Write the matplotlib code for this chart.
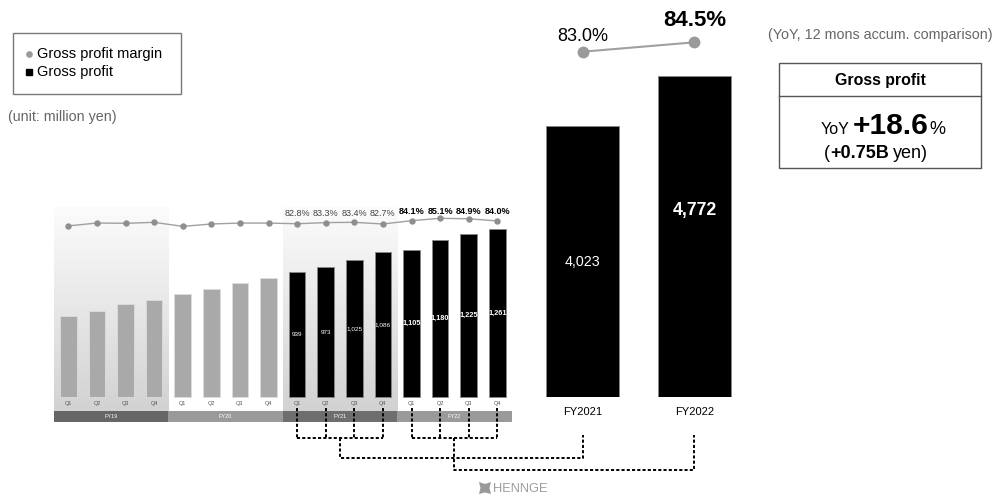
import numpy as np
import matplotlib
matplotlib.use("Agg")
import matplotlib.pyplot as plt
from matplotlib.patches import Rectangle, Polygon
from matplotlib.colors import LinearSegmentedColormap

plt.rcParams['font.family'] = ['Liberation Sans', 'DejaVu Sans']

# Quarterly gross profit (million yen) and gross profit margin (%)
fiscal_years = ['FY19', 'FY20', 'FY21', 'FY22']
quarters = ['Q1', 'Q2', 'Q3', 'Q4']
gp_fy19 = [608, 645, 698, 728]
gp_fy20 = [770, 810, 855, 893]
gp_fy21 = [939, 973, 1025, 1086]
gp_fy22 = [1105, 1180, 1225, 1261]
margin_fy19 = [81.9, 83.1, 83.0, 83.4]
margin_fy20 = [81.7, 82.7, 83.1, 83.1]
margin_fy21 = [82.8, 83.3, 83.4, 82.7]
margin_fy22 = [84.1, 85.1, 84.9, 84.0]

# 12 months accumulated
annual_labels = ['FY2021', 'FY2022']
annual_gp = [4023, 4772]
annual_margin = [83.0, 84.5]

W, H = 996, 495
fig = plt.figure(figsize=(W / 100, H / 100), dpi=100)


def px_rect(x0, y0, x1, y1):
    return [x0 / W, 1 - y1 / H, (x1 - x0) / W, (y1 - y0) / H]


# ---------------- quarterly chart ----------------
gp_all = gp_fy19 + gp_fy20 + gp_fy21 + gp_fy22
margin_all = margin_fy19 + margin_fy20 + margin_fy21 + margin_fy22
xq = np.arange(len(gp_all))

ax_q = fig.add_axes(px_rect(54, 207, 511.6, 421.7))
q_top, q_bottom = 1425, -185
band_top = -105
ax_q.axis('off')

# shaded background for FY19 and FY21
shade = LinearSegmentedColormap.from_list('shade', ['#fcfcfc', '#d2d2d2'])
grad = np.linspace(0, 1, 256).reshape(-1, 1)
for k in (0, 2):
    ax_q.imshow(grad, extent=[4 * k - 0.5, 4 * k + 3.5, band_top, q_top],
                cmap=shade, aspect='auto', zorder=0)

for i, v in enumerate(gp_all):
    fy = i // 4
    color = '#a9a9a9' if fy < 2 else 'black'
    edge = '#dddddd' if fy < 2 else '#888888'
    ax_q.bar(i, v, width=0.58, color=color, edgecolor=edge, linewidth=0.6, zorder=2)
    if fy == 2:
        ax_q.text(i, v / 2, f'{v:,}', color='white', fontsize=4.6,
                  ha='center', va='center', zorder=3)
    elif fy == 3:
        ax_q.text(i, v / 2, f'{v:,}', color='white', fontsize=5.3,
                  fontweight='bold', ha='center', va='center', zorder=3)
    ax_q.text(i, -52, quarters[i % 4], color='#555555', fontsize=4,
              ha='center', va='center', zorder=3)

band_colors = ['#666666', '#9a9a9a', '#6e6e6e', '#9a9a9a']
for k, name in enumerate(fiscal_years):
    ax_q.add_patch(Rectangle((4 * k - 0.5, q_bottom), 4, band_top - q_bottom,
                             facecolor=band_colors[k], edgecolor='none', zorder=2))
    ax_q.text(4 * k + 1.5, (band_top + q_bottom) / 2, name, color='white',
              fontsize=4, ha='center', va='center', zorder=3)

ax_q.set_xlim(-0.5, 15.5)
ax_q.set_ylim(q_bottom, q_top)

ax_m = ax_q.twinx()
ax_m.axis('off')
ax_m.plot(xq, margin_all, color='#a0a0a0', lw=1, marker='o', ms=3.6,
          mfc='#8e8e8e', mec='#8e8e8e', zorder=4)
for i in range(8, 16):
    bold = i >= 12
    ax_m.text(i, 87.9 if bold else 87.2, f'{margin_all[i]:.1f}%',
              fontsize=6.5, ha='center', va='center',
              color='black' if bold else '#444444',
              fontweight='bold' if bold else 'normal')
ax_m.set_xlim(-0.5, 15.5)
ax_m.set_ylim(-0.54, 89.86)

# ---------------- annual chart ----------------
xb = np.arange(len(annual_gp))
ax_b = fig.add_axes(px_rect(530, 20, 750, 397))
ax_b.axis('off')
ax_b.bar(xb, annual_gp, width=0.657, color='black', edgecolor='#888888', linewidth=0.6)
ax_b.text(xb[0], annual_gp[0] * 0.5, f'{annual_gp[0]:,}', color='white',
          fontsize=10.3, ha='center', va='center')
ax_b.text(xb[1], annual_gp[1] * 0.58, f'{annual_gp[1]:,}', color='white',
          fontsize=12.7, fontweight='bold', ha='center', va='center')
for x, lab in zip(xb, annual_labels):
    ax_b.text(x, -223, lab, fontsize=8, ha='center', va='center', clip_on=False)
ax_b.set_xlim(-0.469, 1.496)
ax_b.set_ylim(0, 5602)

ax_bm = ax_b.twinx()
ax_bm.axis('off')
ax_bm.plot(xb, annual_margin, color='#a0a0a0', lw=1.5, marker='o', ms=7.5,
           mfc='#9a9a9a', mec='#9a9a9a')
ax_bm.annotate(f'{annual_margin[0]:.1f}%', (xb[0], annual_margin[0]),
               xytext=(0, 11), textcoords='offset points', fontsize=13,
               ha='center', va='center')
ax_bm.annotate(f'{annual_margin[1]:.1f}%', (xb[1], annual_margin[1]),
               xytext=(0, 16), textcoords='offset points', fontsize=16,
               fontweight='bold', ha='center', va='center')
ax_bm.set_xlim(-0.469, 1.496)
ax_bm.set_ylim(27.93, 88.06)

# ---------------- overlay: connectors, legend, summary box ----------------
ax_o = fig.add_axes([0, 0, 1, 1])
ax_o.set_xlim(0, W)
ax_o.set_ylim(H, 0)
ax_o.axis('off')

qx = [ax_q.transData.transform((i, 0))[0] for i in xq]
bx = [ax_b.transData.transform((i, 0))[0] for i in xb]
dash = dict(color='black', lw=1.4, linestyle=(0, (1.6, 1.1)), zorder=5)
for k, (start, drop) in enumerate([(8, 458), (12, 470)]):
    xs = qx[start:start + 4]
    for x in xs:
        ax_o.plot([x, x], [408, 438], **dash)
    ax_o.plot([xs[0], xs[-1]], [438, 438], **dash)
    mid = np.mean(xs)
    ax_o.plot([mid, mid, bx[k], bx[k]], [438, drop, drop, 435], **dash)

# legend box
ax_o.add_patch(Rectangle((13, 33), 168, 61, facecolor='none', edgecolor='#777777', lw=1))
ax_o.plot([29], [54.3], marker='o', ms=3.8, color='#9a9a9a')
ax_o.plot([29], [71.7], marker='s', ms=4.2, color='black')
ax_o.text(37, 54.3, 'Gross profit margin', fontsize=10.5, va='center', ha='left')
ax_o.text(37, 71.7, 'Gross profit', fontsize=10.5, va='center', ha='left')
ax_o.text(8, 117, '(unit: million yen)', fontsize=10.3, color='#666666',
          va='center', ha='left')

ax_o.text(993, 35, '(YoY, 12 mons accum. comparison)', fontsize=10.3,
          color='#666666', va='center', ha='right')

# summary box
ax_o.add_patch(Rectangle((779, 63), 202, 105, facecolor='none', edgecolor='#555555', lw=1))
ax_o.plot([779, 981], [96, 96], color='#555555', lw=1)
ax_o.text(880, 80, 'Gross profit', fontsize=11.4, fontweight='bold',
          ha='center', va='center')

renderer = fig.canvas.get_renderer()


def rich_line(xc, y, parts):
    items = []
    for s, kw, gap in parts:
        t = ax_o.text(0, y, s, ha='left', va='baseline', **kw)
        items.append((t, gap))
    widths = [t.get_window_extent(renderer).width + g for t, g in items]
    x = xc - sum(widths) / 2
    for (t, g), w in zip(items, widths):
        t.set_x(x)
        x += w


rich_line(883, 134, [('YoY', dict(fontsize=11.5), 4),
                     ('+18.6', dict(fontsize=21.5, fontweight='bold'), 1),
                     ('%', dict(fontsize=13), 0)])
rich_line(876, 158, [('(', dict(fontsize=13), 0),
                     ('+0.75B', dict(fontsize=13, fontweight='bold'), 4),
                     ('yen)', dict(fontsize=13), 0)])

# footer logo
ax_o.add_patch(Polygon([(479, 482), (485, 484), (491, 482), (489.5, 488), (491, 494),
                        (485, 492.5), (479, 494), (480.5, 488)],
                       closed=True, facecolor='#9a9a9a', edgecolor='none'))
ax_o.text(493, 488.5, 'HENNGE', fontsize=9.3, color='#9d9d9d', ha='left', va='center')

fig.savefig('out.png', dpi=100)
